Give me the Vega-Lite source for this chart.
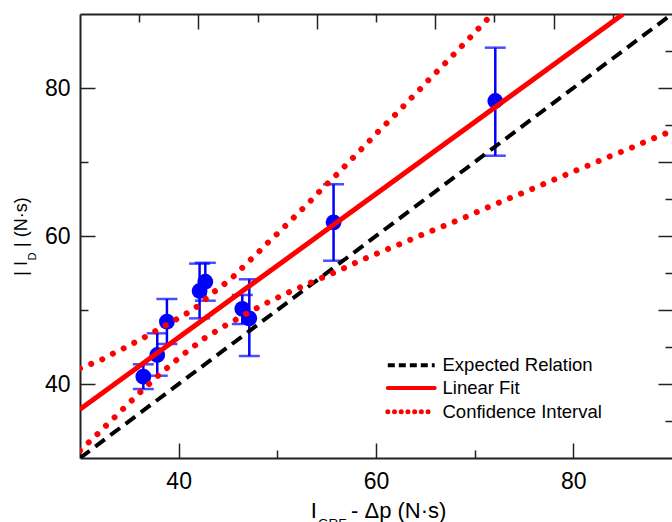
{
  "$schema": "https://vega.github.io/schema/vega-lite/v6.json",
  "width": 592,
  "height": 444,
  "autosize": "none",
  "padding": {"left": 80, "top": 14, "right": 0, "bottom": 64},
  "datasets": {
    "pts": [
      {"x": 36.42, "y": 40.99, "lo": 39.32, "hi": 42.66},
      {"x": 37.83, "y": 43.92, "lo": 41.12, "hi": 46.85},
      {"x": 38.81, "y": 48.42, "lo": 45.41, "hi": 51.49},
      {"x": 42.12, "y": 52.57, "lo": 48.87, "hi": 56.27},
      {"x": 42.70, "y": 53.82, "lo": 51.26, "hi": 56.38},
      {"x": 46.45, "y": 50.16, "lo": 48.11, "hi": 52.03},
      {"x": 47.16, "y": 48.88, "lo": 43.78, "hi": 54.15},
      {"x": 55.70, "y": 61.85, "lo": 56.66, "hi": 66.99},
      {"x": 72.09, "y": 78.24, "lo": 70.85, "hi": 85.45}
    ],
    "expected": [
      {"series": "Expected Relation", "x": 30, "y": 30},
      {"series": "Expected Relation", "x": 90, "y": 90}
    ],
    "fit": [
      {"series": "Linear Fit", "x": 30, "y": 36.58},
      {"series": "Linear Fit", "x": 85.05, "y": 90}
    ],
    "ci": [
      {"series": "Confidence Interval", "band": "upper", "x": 30, "y": 42.12},
      {"series": "Confidence Interval", "band": "upper", "x": 32.13, "y": 43.24},
      {"series": "Confidence Interval", "band": "upper", "x": 33.20, "y": 44.01},
      {"series": "Confidence Interval", "band": "upper", "x": 34.26, "y": 44.69},
      {"series": "Confidence Interval", "band": "upper", "x": 35.27, "y": 45.41},
      {"series": "Confidence Interval", "band": "upper", "x": 36.34, "y": 46.17},
      {"series": "Confidence Interval", "band": "upper", "x": 40.57, "y": 49.35},
      {"series": "Confidence Interval", "band": "upper", "x": 41.58, "y": 50.15},
      {"series": "Confidence Interval", "band": "upper", "x": 43.61, "y": 52.47},
      {"series": "Confidence Interval", "band": "upper", "x": 44.73, "y": 53.60},
      {"series": "Confidence Interval", "band": "upper", "x": 45.81, "y": 54.82},
      {"series": "Confidence Interval", "band": "upper", "x": 46.82, "y": 56.22},
      {"series": "Confidence Interval", "band": "upper", "x": 47.84, "y": 57.47},
      {"series": "Confidence Interval", "band": "upper", "x": 48.85, "y": 58.87},
      {"series": "Confidence Interval", "band": "upper", "x": 49.97, "y": 60.27},
      {"series": "Confidence Interval", "band": "upper", "x": 50.98, "y": 61.58},
      {"series": "Confidence Interval", "band": "upper", "x": 52.02, "y": 62.97},
      {"series": "Confidence Interval", "band": "upper", "x": 53.09, "y": 64.36},
      {"series": "Confidence Interval", "band": "upper", "x": 54.15, "y": 65.85},
      {"series": "Confidence Interval", "band": "upper", "x": 55.16, "y": 67.20},
      {"series": "Confidence Interval", "band": "upper", "x": 56.21, "y": 68.55},
      {"series": "Confidence Interval", "band": "upper", "x": 57.22, "y": 69.96},
      {"series": "Confidence Interval", "band": "upper", "x": 58.24, "y": 71.35},
      {"series": "Confidence Interval", "band": "upper", "x": 59.25, "y": 72.74},
      {"series": "Confidence Interval", "band": "upper", "x": 60.26, "y": 74.15},
      {"series": "Confidence Interval", "band": "upper", "x": 61.35, "y": 75.58},
      {"series": "Confidence Interval", "band": "upper", "x": 62.36, "y": 76.93},
      {"series": "Confidence Interval", "band": "upper", "x": 63.37, "y": 78.38},
      {"series": "Confidence Interval", "band": "upper", "x": 64.39, "y": 79.73},
      {"series": "Confidence Interval", "band": "upper", "x": 65.40, "y": 81.18},
      {"series": "Confidence Interval", "band": "upper", "x": 66.41, "y": 82.53},
      {"series": "Confidence Interval", "band": "upper", "x": 67.43, "y": 83.92},
      {"series": "Confidence Interval", "band": "upper", "x": 68.44, "y": 85.31},
      {"series": "Confidence Interval", "band": "upper", "x": 69.45, "y": 86.71},
      {"series": "Confidence Interval", "band": "upper", "x": 70.47, "y": 88.15},
      {"series": "Confidence Interval", "band": "upper", "x": 71.48, "y": 89.55},
      {"series": "Confidence Interval", "band": "lower", "x": 30, "y": 30.99},
      {"series": "Confidence Interval", "band": "lower", "x": 32.13, "y": 33.69},
      {"series": "Confidence Interval", "band": "lower", "x": 34.26, "y": 36.49},
      {"series": "Confidence Interval", "band": "lower", "x": 36.34, "y": 39.19},
      {"series": "Confidence Interval", "band": "lower", "x": 38.37, "y": 41.66},
      {"series": "Confidence Interval", "band": "lower", "x": 40.50, "y": 44.05},
      {"series": "Confidence Interval", "band": "lower", "x": 42.60, "y": 46.18},
      {"series": "Confidence Interval", "band": "lower", "x": 44.70, "y": 47.88},
      {"series": "Confidence Interval", "band": "lower", "x": 46.82, "y": 49.46},
      {"series": "Confidence Interval", "band": "lower", "x": 48.85, "y": 50.91},
      {"series": "Confidence Interval", "band": "lower", "x": 50.94, "y": 52.26},
      {"series": "Confidence Interval", "band": "lower", "x": 53.07, "y": 53.51},
      {"series": "Confidence Interval", "band": "lower", "x": 56.21, "y": 55.31},
      {"series": "Confidence Interval", "band": "lower", "x": 58.31, "y": 56.62},
      {"series": "Confidence Interval", "band": "lower", "x": 60.40, "y": 57.80},
      {"series": "Confidence Interval", "band": "lower", "x": 62.53, "y": 58.96},
      {"series": "Confidence Interval", "band": "lower", "x": 64.62, "y": 60.14},
      {"series": "Confidence Interval", "band": "lower", "x": 66.69, "y": 61.26},
      {"series": "Confidence Interval", "band": "lower", "x": 68.78, "y": 62.39},
      {"series": "Confidence Interval", "band": "lower", "x": 70.87, "y": 63.61},
      {"series": "Confidence Interval", "band": "lower", "x": 73.00, "y": 64.82},
      {"series": "Confidence Interval", "band": "lower", "x": 75.10, "y": 65.95},
      {"series": "Confidence Interval", "band": "lower", "x": 77.16, "y": 67.12},
      {"series": "Confidence Interval", "band": "lower", "x": 79.25, "y": 68.28},
      {"series": "Confidence Interval", "band": "lower", "x": 81.38, "y": 69.46},
      {"series": "Confidence Interval", "band": "lower", "x": 83.47, "y": 70.64},
      {"series": "Confidence Interval", "band": "lower", "x": 85.60, "y": 71.76},
      {"series": "Confidence Interval", "band": "lower", "x": 87.70, "y": 72.97},
      {"series": "Confidence Interval", "band": "lower", "x": 89.80, "y": 74.09},
      {"series": "Confidence Interval", "band": "lower", "x": 90, "y": 74.2}
    ]
  },
  "resolve": {"axis": {"x": "independent", "y": "independent"}},
  "layer": [
    {
      "data": {"name": "pts"},
      "mark": {"type": "rule", "color": "#0000FF", "strokeWidth": 2.5},
      "encoding": {
        "x": {"field": "x", "type": "quantitative", "scale": {"domain": [30, 90], "nice": false, "zero": false},
          "axis": {"orient": "bottom", "values": [40, 60, 80], "ticks": false, "domain": true, "labelFontSize": 23, "labelBaseline": "alphabetic", "labelPadding": 30, "labelFlush": false, "labelOverlap": false,
            "title": "I\u2002\u2002\u00a0 - \u0394p (N\u00b7s)", "titleFontSize": 22, "titleAlign": "center", "titleBaseline": "alphabetic", "titleX": 298, "titleY": 59}},
        "y": {"field": "lo", "type": "quantitative", "scale": {"domain": [30, 90], "nice": false, "zero": false},
          "axis": {"orient": "left", "values": [40, 60, 80], "ticks": false, "domain": true, "labelFontSize": 23, "labelPadding": 10, "labelFlush": false, "labelOverlap": false,
            "title": "| I\u2002 | (N\u00b7s)", "titleFontSize": 18, "titleAngle": -90, "titleAlign": "center", "titleBaseline": "alphabetic", "titleX": -53.6, "titleY": 222}},
        "y2": {"field": "hi"}
      }
    },
    {
      "data": {"name": "pts"},
      "mark": {"type": "tick", "orient": "horizontal", "color": "#0000FF", "size": 21, "thickness": 2.5},
      "encoding": {
        "x": {"field": "x", "type": "quantitative", "scale": {"domain": [30, 90], "nice": false, "zero": false},
          "axis": {"orient": "bottom", "values": [40, 60, 80], "labels": false, "domain": false, "ticks": true, "tickSize": 15, "offset": -15, "title": null}},
        "y": {"field": "lo", "type": "quantitative", "scale": {"domain": [30, 90], "nice": false, "zero": false},
          "axis": {"orient": "left", "values": [40, 60, 80], "labels": false, "domain": false, "ticks": true, "tickSize": 15, "offset": -15, "title": null}}
      }
    },
    {
      "data": {"name": "pts"},
      "mark": {"type": "tick", "orient": "horizontal", "color": "#0000FF", "size": 21, "thickness": 2.5},
      "encoding": {
        "x": {"field": "x", "type": "quantitative", "scale": {"domain": [30, 90], "nice": false, "zero": false},
          "axis": {"orient": "bottom", "values": [50, 70], "labels": false, "domain": false, "ticks": true, "tickSize": 8, "offset": -8,
            "title": "GRF", "titleFontSize": 13.5, "titleAlign": "left", "titleBaseline": "alphabetic", "titleX": 237.6, "titleY": 77}},
        "y": {"field": "hi", "type": "quantitative", "scale": {"domain": [30, 90], "nice": false, "zero": false},
          "axis": {"orient": "left", "values": [50, 70], "labels": false, "domain": false, "ticks": true, "tickSize": 8, "offset": -8,
            "title": "D", "titleFontSize": 11, "titleAngle": -90, "titleAlign": "left", "titleBaseline": "alphabetic", "titleX": -52.1, "titleY": 246}}
      }
    },
    {
      "data": {"name": "pts"},
      "mark": {"type": "circle", "color": "#0000FF", "size": 250, "opacity": 1},
      "encoding": {
        "x": {"field": "x", "type": "quantitative", "scale": {"domain": [30, 90], "nice": false, "zero": false},
          "axis": {"orient": "top", "values": [42, 54, 66, 78], "labels": false, "domain": false, "ticks": true, "tickSize": 15, "offset": -15, "title": null}},
        "y": {"field": "y", "type": "quantitative", "scale": {"domain": [30, 90], "nice": false, "zero": false},
          "axis": {"orient": "right", "values": [40, 50, 60, 70, 80], "labels": false, "domain": false, "ticks": true, "tickSize": 14, "offset": -14, "title": null}}
      }
    },
    {
      "data": {"name": "expected"},
      "mark": {"type": "line", "strokeDash": [12, 7], "strokeWidth": 4, "clip": true},
      "encoding": {
        "x": {"field": "x", "type": "quantitative", "scale": {"domain": [30, 90], "nice": false, "zero": false},
          "axis": {"orient": "top", "values": [36, 48, 60, 72, 84], "labels": false, "domain": false, "ticks": true, "tickSize": 8, "offset": -8, "title": null}},
        "y": {"field": "y", "type": "quantitative", "scale": {"domain": [30, 90], "nice": false, "zero": false},
          "axis": {"orient": "right", "values": [35, 45, 55, 65, 75, 85], "labels": false, "domain": false, "ticks": true, "tickSize": 7, "offset": -7, "title": null}},
        "color": {"field": "series", "type": "nominal",
          "scale": {"domain": ["Expected Relation", "Linear Fit", "Confidence Interval"], "range": ["#000000", "#FF0000", "#FF0000"]},
          "legend": {"orient": "none", "legendX": 322, "legendY": 342, "title": null, "padding": 0,
            "symbolType": "stroke", "symbolSize": 2200, "symbolStrokeWidth": 4,
            "labelFont": "Liberation Sans", "labelFontSize": 18.5, "labelColor": "#000000", "labelOffset": 22, "labelLimit": 400, "rowPadding": 3.7,
            "encode": {"symbols": {"update": {
              "strokeDash": {"signal": "datum.value === 'Expected Relation' ? [7, 4] : datum.value === 'Confidence Interval' ? [0.01, 6.7] : [1, 0]"},
              "strokeCap": {"signal": "datum.value === 'Expected Relation' ? 'butt' : 'round'"},
              "strokeWidth": {"signal": "datum.value === 'Confidence Interval' ? 5 : 4"}
            }}}}}
      }
    },
    {
      "data": {"name": "fit"},
      "mark": {"type": "line", "strokeWidth": 5, "clip": true},
      "encoding": {
        "x": {"field": "x", "type": "quantitative", "scale": {"domain": [30, 90], "nice": false, "zero": false},
          "axis": {"orient": "top", "labels": false, "domain": true, "ticks": false, "title": null}},
        "y": {"field": "y", "type": "quantitative", "scale": {"domain": [30, 90], "nice": false, "zero": false}, "axis": null},
        "color": {"field": "series", "type": "nominal",
          "scale": {"domain": ["Expected Relation", "Linear Fit", "Confidence Interval"], "range": ["#000000", "#FF0000", "#FF0000"]},
          "legend": {"orient": "none", "legendX": 322, "legendY": 342, "title": null, "padding": 0,
            "symbolType": "stroke", "symbolSize": 2200, "symbolStrokeWidth": 4,
            "labelFont": "Liberation Sans", "labelFontSize": 18.5, "labelColor": "#000000", "labelOffset": 22, "labelLimit": 400, "rowPadding": 3.7,
            "encode": {"symbols": {"update": {
              "strokeDash": {"signal": "datum.value === 'Expected Relation' ? [7, 4] : datum.value === 'Confidence Interval' ? [0.01, 6.7] : [1, 0]"},
              "strokeCap": {"signal": "datum.value === 'Expected Relation' ? 'butt' : 'round'"},
              "strokeWidth": {"signal": "datum.value === 'Confidence Interval' ? 5 : 4"}
            }}}}}
      }
    },
    {
      "data": {"name": "ci"},
      "mark": {"type": "line", "strokeDash": [0.01, 12], "strokeWidth": 6, "strokeCap": "round", "clip": true},
      "encoding": {
        "x": {"field": "x", "type": "quantitative", "scale": {"domain": [30, 90], "nice": false, "zero": false}, "axis": null},
        "y": {"field": "y", "type": "quantitative", "scale": {"domain": [30, 90], "nice": false, "zero": false}, "axis": null},
        "detail": {"field": "band"},
        "color": {"field": "series", "type": "nominal",
          "scale": {"domain": ["Expected Relation", "Linear Fit", "Confidence Interval"], "range": ["#000000", "#FF0000", "#FF0000"]},
          "legend": {"orient": "none", "legendX": 322, "legendY": 342, "title": null, "padding": 0,
            "symbolType": "stroke", "symbolSize": 2200, "symbolStrokeWidth": 4,
            "labelFont": "Liberation Sans", "labelFontSize": 18.5, "labelColor": "#000000", "labelOffset": 22, "labelLimit": 400, "rowPadding": 3.7,
            "encode": {"symbols": {"update": {
              "strokeDash": {"signal": "datum.value === 'Expected Relation' ? [7, 4] : datum.value === 'Confidence Interval' ? [0.01, 6.7] : [1, 0]"},
              "strokeCap": {"signal": "datum.value === 'Expected Relation' ? 'butt' : 'round'"},
              "strokeWidth": {"signal": "datum.value === 'Confidence Interval' ? 5 : 4"}
            }}}}}
      }
    }
  ],
  "config": {
    "view": {"stroke": null},
    "axis": {"grid": false, "tickColor": "#222222", "tickWidth": 1.5, "domainColor": "#222222", "domainWidth": 2,
      "labelFont": "Liberation Sans", "titleFont": "Liberation Sans", "titleFontWeight": "normal", "labelColor": "#000000", "titleColor": "#000000"}
  }
}
